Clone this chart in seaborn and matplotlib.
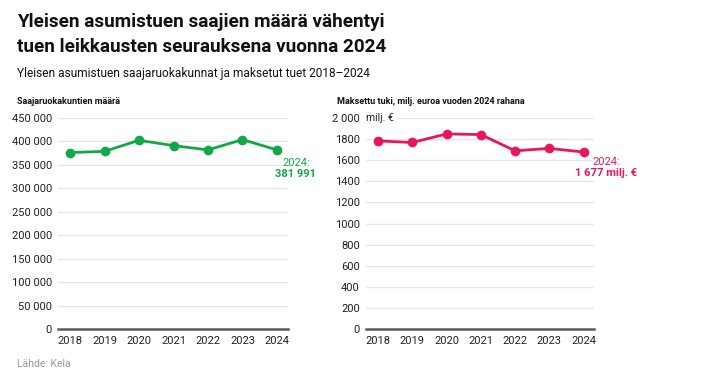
import matplotlib
matplotlib.use("Agg")
import matplotlib.pyplot as plt
import seaborn as sns
import pandas as pd

# data
years = [2018, 2019, 2020, 2021, 2022, 2023, 2024]
households = [376200, 378900, 402400, 391100, 382000, 403900, 381991]
support_meur = [1783, 1768, 1849, 1843, 1689, 1712, 1677]

left_ticks = [0, 50000, 100000, 150000, 200000, 250000, 300000, 350000, 400000, 450000]
left_labels = ["0", "50 000", "100 000", "150 000", "200 000", "250 000", "300 000",
               "350 000", "400 000", "450 000"]
right_ticks = [0, 200, 400, 600, 800, 1000, 1200, 1400, 1600, 1800, 2000]
right_labels = ["0", "200", "400", "600", "800", "1000", "1200", "1400", "1600", "1800", "2 000"]

GREEN = "#12a847"
PINK = "#e8175d"
GRID = "#e6e6e6"
TXT = "#222222"

sns.set_style("white")
plt.rcParams["font.family"] = ["Roboto", "DejaVu Sans"]

W, H = 720, 378
fig = plt.figure(figsize=(W / 100, H / 100), dpi=100)


def px_axes(x0, x1, y_top, y_bot):
    return fig.add_axes([x0 / W, (H - y_bot) / H, (x1 - x0) / W, (y_bot - y_top) / H])


def style_axis(ax, ticks, labels, ymax):
    ax.set_ylim(0, ymax)
    ax.set_yticks(ticks)
    ax.set_yticklabels(labels)
    ax.set_xticks(years)
    ax.set_xticklabels([str(y) for y in years])
    ax.grid(axis="y", color=GRID, linewidth=1)
    ax.set_axisbelow(True)
    for s in ["top", "right", "left"]:
        ax.spines[s].set_visible(False)
    ax.spines["bottom"].set_color("#5a5a5a")
    ax.spines["bottom"].set_linewidth(1.8)
    ax.tick_params(axis="both", length=0, labelsize=8, colors=TXT)
    ax.tick_params(axis="y", pad=4.5)
    ax.tick_params(axis="x", pad=5)
    ax.set_xlabel("")
    ax.set_ylabel("")


df = pd.DataFrame({"vuosi": years, "saajat": households, "tuki": support_meur})

ax1 = px_axes(58, 288, 118, 329)
sns.lineplot(data=df, x="vuosi", y="saajat", ax=ax1, color=GREEN, linewidth=2,
             marker="o", markersize=7, markeredgewidth=0, clip_on=False)
ax1.set_xlim(2017.65, 2024.32)
style_axis(ax1, left_ticks, left_labels, 450000)
ax1.text(2024.55, 354000, "2024:", color=GREEN, fontsize=8, ha="center", va="center")
ax1.text(2024.55, 331000, "381 991", color=GREEN, fontsize=8, fontweight="bold",
         ha="center", va="center")

ax2 = px_axes(366, 594, 118, 329)
sns.lineplot(data=df, x="vuosi", y="tuki", ax=ax2, color=PINK, linewidth=2,
             marker="o", markersize=7, markeredgewidth=0, clip_on=False)
ax2.set_xlim(2017.65, 2024.3)
style_axis(ax2, right_ticks, right_labels, 2000)
ax2.text(2024.65, 1580, "2024:", color=PINK, fontsize=8, ha="center", va="center")
ax2.text(2024.65, 1475, "1 677 milj. €", color=PINK, fontsize=8, fontweight="bold",
         ha="center", va="center")
ax2.text(0.0, 2000, "milj. €", transform=ax2.get_yaxis_transform(), color=TXT,
         fontsize=7.5, ha="left", va="center",
         bbox=dict(facecolor="white", edgecolor="none", pad=2.5))

# titles and labels
fig.text(17 / W, 1 - 22 / H, "Yleisen asumistuen saajien määrä vähentyi", fontsize=13.6,
         fontweight="bold", color="#111111", ha="left", va="center")
fig.text(17 / W, 1 - 47 / H, "tuen leikkausten seurauksena vuonna 2024", fontsize=13.6,
         fontweight="bold", color="#111111", ha="left", va="center")
fig.text(17 / W, 1 - 73 / H, "Yleisen asumistuen saajaruokakunnat ja maksetut tuet 2018–2024",
         fontsize=8.6, color="#111111", ha="left", va="center")
fig.text(17 / W, 1 - 102 / H, "Saajaruokakuntien määrä", fontsize=6.5, fontweight="bold",
         color="#111111", ha="left", va="center")
fig.text(337 / W, 1 - 102 / H, "Maksettu tuki, milj. euroa vuoden 2024 rahana", fontsize=6.5,
         fontweight="bold", color="#111111", ha="left", va="center")
fig.text(17 / W, 1 - 364 / H, "Lähde: Kela", fontsize=7.5, color="#999999",
         ha="left", va="center")

fig.savefig("out.png", dpi=100, facecolor="white")
